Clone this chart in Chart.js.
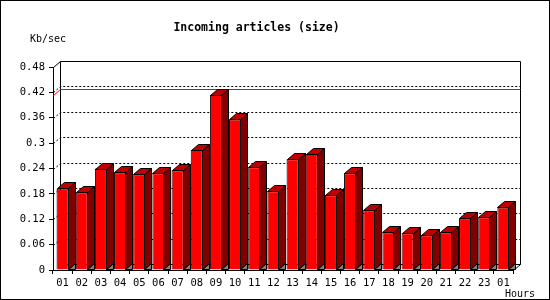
<!DOCTYPE html>
<html>
<head>
<meta charset="utf-8">
<script src="https://cdn.jsdelivr.net/npm/chart.js@4/dist/chart.umd.min.js"></script>
<style>
    html, body { margin: 0; padding: 0; background: #fff; }
    canvas { display: block; }
</style>
</head>
<body>
<canvas id="chart" width="550" height="300"></canvas>
<script>
// Data
const hours = ['01', '02', '03', '04', '05', '06', '07', '08', '09', '10', '11', '12',
               '13', '14', '15', '16', '17', '18', '19', '20', '21', '22', '23', '01'];
const kbPerSec = [0.193, 0.184, 0.240, 0.231, 0.226, 0.229, 0.236, 0.284, 0.414, 0.356, 0.243, 0.186,
                  0.262, 0.274, 0.177, 0.229, 0.141, 0.089, 0.087, 0.082, 0.089, 0.122, 0.125, 0.148];
const yMax = 0.48;
const yStep = 0.06;

// 3D look
const DX = 7, DY = 6;
const MONO = '"DejaVu Sans Mono", monospace';

function poly(ctx, pts, fill) {
    ctx.beginPath();
    ctx.moveTo(pts[0][0], pts[0][1]);
    for (let i = 1; i < pts.length; i++) ctx.lineTo(pts[i][0], pts[i][1]);
    ctx.closePath();
    ctx.fillStyle = fill;
    ctx.fill();
    ctx.stroke();
}

function line(ctx, pts) {
    ctx.beginPath();
    ctx.moveTo(pts[0][0], pts[0][1]);
    for (let i = 1; i < pts.length; i++) ctx.lineTo(pts[i][0], pts[i][1]);
    ctx.stroke();
}

// back wall, dotted grid and max line
const backWall = {
    id: 'backWall',
    beforeDatasetsDraw(chart) {
        const { ctx, chartArea: a, scales: { y } } = chart;
        const L = Math.round(a.left) + 0.5, R = Math.round(a.right) + 0.5;
        const T = Math.round(a.top) + 0.5, B = Math.round(a.bottom) + 0.5;
        ctx.save();
        ctx.lineWidth = 1;
        ctx.strokeStyle = '#000';

        ctx.setLineDash([2, 2]);
        y.ticks.forEach(t => {
            if (t.value <= 0 || t.value >= yMax - 1e-9) return;
            const py = Math.round(y.getPixelForValue(t.value)) + 0.5;
            line(ctx, [[L, py], [L + DX, py - DY], [R + DX, py - DY]]);
        });
        ctx.setLineDash([]);

        // wall frame
        line(ctx, [[L, T], [L + DX, T - DY], [R + DX, T - DY], [R + DX, B - DY], [R, B]]);
        line(ctx, [[L + DX, T - DY], [L + DX, B - DY], [R + DX, B - DY]]);

        // max line
        const maxVal = Math.max(...kbPerSec);
        const my = Math.round(y.getPixelForValue(maxVal)) + 0.5;
        ctx.strokeStyle = '#ff0000';
        line(ctx, [[L, my], [L + DX, my - DY], [R + DX, my - DY]]);
        ctx.restore();
    },
    afterDatasetsDraw(chart) {
        const { ctx } = chart;
        ctx.save();
        ctx.lineWidth = 1;
        ctx.strokeStyle = '#000';
        chart.getDatasetMeta(0).data.forEach(bar => {
            const { x, y, base, width } = bar.getProps(['x', 'y', 'base', 'width'], true);
            const l = Math.round(x - width / 2) + 0.5;
            const r = Math.round(x + width / 2) - 0.5;
            const t = Math.round(y) + 0.5;
            const b = Math.round(base) - 0.5;
            poly(ctx, [[r, b], [r + DX, b - DY], [r + DX, b]], '#808080');
            poly(ctx, [[r, t], [r + DX, t - DY], [r + DX, b - DY], [r, b]], '#800000');
            poly(ctx, [[l, t], [l + DX, t - DY], [r + DX, t - DY], [r, t]], '#c00000');
        });
        ctx.restore();
    },
    afterDraw(chart) {
        const { ctx } = chart;
        ctx.save();
        ctx.fillStyle = '#000';
        ctx.font = '10px ' + MONO;
        ctx.textBaseline = 'middle';
        ctx.textAlign = 'left';
        ctx.fillText('Kb/sec', 30, 39);
        ctx.textAlign = 'right';
        ctx.fillText('Hours', 535, 294);
        ctx.strokeStyle = '#000';
        ctx.lineWidth = 1;
        ctx.strokeRect(0.5, 0.5, chart.width - 1, chart.height - 1);
        ctx.restore();
    }
};

new Chart(document.getElementById('chart'), {
    type: 'bar',
    data: {
        labels: hours,
        datasets: [{
            label: 'Incoming articles (size)',
            data: kbPerSec,
            backgroundColor: '#ff0000',
            borderColor: '#000',
            borderWidth: 1,
            barPercentage: 0.63,
            categoryPercentage: 1
        }]
    },
    options: {
        responsive: false,
        animation: false,
        devicePixelRatio: 1,
        layout: { padding: { top: 0, left: 0, right: 37, bottom: 0 } },
        plugins: {
            legend: { display: false },
            tooltip: { enabled: false },
            title: {
                display: true,
                text: 'Incoming articles (size)',
                color: '#000',
                font: { family: MONO, size: 11.5, weight: 'bold' },
                padding: { top: 21, bottom: 32.2 }
            }
        },
        scales: {
            x: {
                afterFit: s => { s.height = 30; },
                grid: { drawOnChartArea: false, color: '#000', tickLength: 4, offset: true },
                border: { color: '#000' },
                ticks: { color: '#000', font: { family: MONO, size: 10.5 }, padding: 3, maxRotation: 0, autoSkip: false }
            },
            y: {
                min: 0,
                max: yMax,
                afterFit: s => { s.width = 53; },
                grid: { drawOnChartArea: false, color: '#000', tickLength: 4 },
                border: { color: '#000' },
                ticks: {
                    stepSize: yStep,
                    color: '#000',
                    padding: 4,
                    font: { family: MONO, size: 10.5 },
                    callback: v => String(+v.toFixed(2))
                }
            }
        }
    },
    plugins: [backWall]
});
</script>
</body>
</html>
